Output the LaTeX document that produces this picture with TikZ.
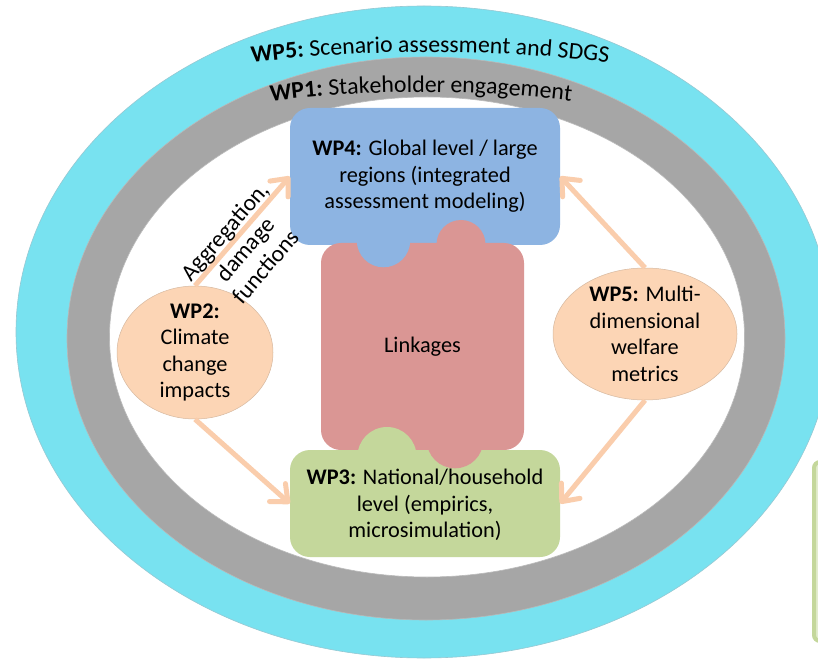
\documentclass[tikz,border=0pt]{standalone}
\usepackage{fontspec}
\setmainfont{Carlito}
\usetikzlibrary{shapes.geometric,arrows.meta,decorations.text}
\definecolor{ringcyan}{RGB}{120,226,240}
\definecolor{cyanedge}{RGB}{150,200,210}
\definecolor{ringgray}{RGB}{166,166,166}
\definecolor{grayedge}{RGB}{185,185,185}
\definecolor{wpblue}{RGB}{141,180,226}
\definecolor{linkpink}{RGB}{218,150,148}
\definecolor{wpgreen}{RGB}{196,215,155}
\definecolor{peach}{RGB}{252,213,181}
\definecolor{peachedge}{RGB}{215,185,160}
\definecolor{arrowpeach}{RGB}{250,205,172}
\definecolor{lightgreen}{RGB}{226,236,206}
\begin{document}
\begin{tikzpicture}[x=1pt,y=1pt,
  box/.style={rounded corners=20pt, inner sep=0pt, minimum width=270pt},
  bubble/.style={ellipse, fill=peach, draw=peachedge, line width=0.5pt, inner sep=0pt},
  txt/.style={font=\fontsize{22.3}{26.5}\selectfont, align=center, text=black},
  flow/.style={line width=5pt, draw=arrowpeach, -{Straight Barb[length=14pt,width=24pt,round]}},
]
\useasboundingbox (0,0) rectangle (818,662);
\fill[white] (0,0) rectangle (818,662);
\begin{scope}
\clip (0,0) rectangle (818,662);
\filldraw[fill=ringcyan, draw=cyanedge, line width=0.6pt] (424,330) ellipse [x radius=408pt, y radius=326pt];
\filldraw[fill=ringgray, draw=grayedge, line width=0.6pt] (426,323.5) ellipse [x radius=359pt, y radius=281.5pt];
\filldraw[fill=white, draw=grayedge, line width=0.6pt] (427,325) ellipse [x radius=317.5pt, y radius=240pt];
\filldraw[fill=lightgreen, draw=wpgreen, line width=4pt, rounded corners=6pt] (814,21) rectangle (850,200);
\end{scope}

% ring labels
\begin{scope}
\fontsize{23.8}{28}\selectfont
\path[decorate, decoration={text along path, text align=center,
  text={|\bfseries|WP5: |\mdseries|Scenario assessment and SDGS}}]
  (169.5,587.2) arc[start angle=100, end angle=80, radius=1500pt];
\path[decorate, decoration={text along path, text align=center,
  text={|\bfseries|WP1: |\mdseries|Stakeholder engagement}}]
  (203.9,551.0) arc[start angle=100, end angle=80, radius=1250pt];
\end{scope}

% puzzle pieces
\node[box, fill=wpblue, minimum height=137pt] (wp4) at (425,485.5) {};
\node[box, fill=linkpink, minimum width=203pt, minimum height=207pt] (link) at (422.5,315.5) {};
\node[box, fill=wpgreen, minimum height=107pt] (wp3) at (425,158.5) {};
\fill[linkpink] (461,417.5) circle[radius=24.5pt];
\fill[linkpink] (455,222) circle[radius=28.3pt];
\fill[wpblue] (383.5,421.4) circle[radius=26.7pt];
\fill[wpgreen] (387,205.5) circle[radius=29.5pt];

\node[txt] (wp4t) at (wp4) {\textbf{WP4:} Global level / large\\regions (integrated\\assessment modeling)};
\node[txt] (linkt) at (422.5,315) {Linkages};
\node[txt] (wp3t) at (425,157) {\textbf{WP3:} National/household\\level (empirics,\\microsimulation)};

% bubbles
\node[bubble, minimum width=156pt, minimum height=133pt] (wp2) at (195,309.5) {};
\node[bubble, minimum width=184pt, minimum height=132pt] (wp5m) at (645,328) {};

% arrows
\draw[flow] (wp2.north) -- (wp4.west);
\draw[flow] (wp2.south) -- (wp3.west);
\draw[flow] (wp5m.north) -- (wp4.east);
\draw[flow] (wp5m.south) -- (wp3.east);

\node[txt] (wp2t) at (wp2) {\textbf{WP2:}\\Climate\\change\\impacts};
\node[txt] (wp5mt) at (wp5m) {\textbf{WP5:} Multi-\\dimensional\\welfare\\metrics};
\node[txt, font=\fontsize{23.5}{27}\selectfont, rotate=49] (agg) at (245,413) {Aggregation,\\damage\\functions};
\end{tikzpicture}
\end{document}
